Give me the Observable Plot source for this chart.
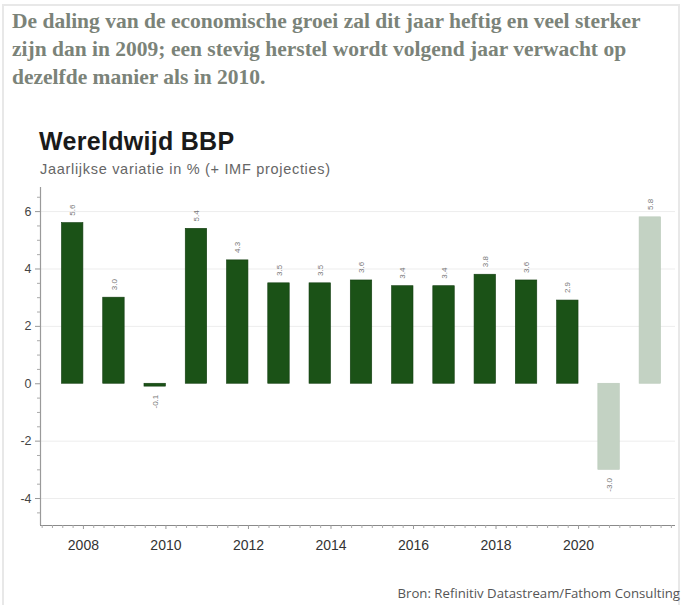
<!DOCTYPE html>
<html>
<head>
<meta charset="utf-8">
<script src="https://cdn.jsdelivr.net/npm/d3@7"></script>
<script src="https://cdn.jsdelivr.net/npm/@observablehq/plot@0.6"></script>
<style>
  html, body { margin: 0; padding: 0; background: #fff; width: 686px; height: 605px; overflow: hidden; }
  #card { position: absolute; left: 2px; top: 4px; width: 678px; height: 620px; border: 2px solid #e8e8e8; box-sizing: border-box; }
  #headline { position: absolute; left: 12px; top: 7px; width: 670px; white-space: nowrap; font-family: "Liberation Serif", serif; font-weight: bold; font-size: 21.5px; line-height: 28px; color: #7b8379; }
  #ctitle { position: absolute; left: 39px; top: 127px; font-family: "Liberation Sans", Arial, sans-serif; font-weight: bold; font-size: 25px; color: #1a1a1a; letter-spacing: 0.3px; }
  #csub { position: absolute; left: 40px; top: 161px; font-family: "Liberation Sans", Arial, sans-serif; font-size: 14.5px; letter-spacing: 0.7px; color: #666; }
  #chart { position: absolute; left: 0; top: 180px; }
  #source { position: absolute; right: 6px; top: 584px; font-family: "Open Sans", sans-serif; font-size: 13.2px; color: #555; }
</style>
</head>
<body>
<div id="card"></div>
<div id="headline">De daling van de economische groei zal dit jaar heftig en veel sterker<br>zijn dan in 2009; een stevig herstel wordt volgend jaar verwacht op<br>dezelfde manier als in 2010.</div>
<div id="ctitle">Wereldwijd BBP</div>
<div id="csub">Jaarlijkse variatie in % (+ IMF projecties)</div>
<div id="chart"></div>
<div id="source">Bron: Refinitiv Datastream/Fathom Consulting</div>
<script>
const years = [2007, 2008, 2009, 2010, 2011, 2012, 2013, 2014, 2015, 2016, 2017, 2018, 2019, 2020, 2021];
const growth = [5.6, 3.0, -0.1, 5.4, 4.3, 3.5, 3.5, 3.6, 3.4, 3.4, 3.8, 3.6, 2.9, -3.0, 5.8];
const projection = [false, false, false, false, false, false, false, false, false, false, false, false, false, true, true];
const xTickYears = [2008, 2010, 2012, 2014, 2016, 2018, 2020];
const yTicks = [-4, -2, 0, 2, 4, 6];

const data = years.map((y, i) => ({year: y, value: growth[i], proj: projection[i]}));
const pos = data.filter(d => d.value >= 0);
const neg = data.filter(d => d.value < 0);

const xDomain = [2006.96, 2022.35];
const yDomain = [-4.94, 6.84];
const minorY = d3.range(-4.5, 6.6, 0.5).filter(v => !yTicks.includes(v));
const minorX = d3.range(2007, 2022.3, 0.25).filter(v => !xTickYears.includes(v));

const dark = "#1b5217";
const light = "#c3d2c3";

const chart = Plot.plot({
  width: 686,
  height: 380,
  marginLeft: 40,
  marginRight: 11,
  marginTop: 7,
  marginBottom: 35,
  x: {domain: xDomain, axis: null},
  y: {domain: yDomain, axis: null},
  style: {fontFamily: "Liberation Sans, Arial, sans-serif", background: "transparent"},
  marks: [
    Plot.ruleY(yTicks.filter(v => v !== 0), {stroke: "#ededed", strokeWidth: 1}),
    Plot.rectY(data, {
      x1: d => d.year + 0.48,
      x2: d => d.year + 1,
      y: "value",
      fill: d => d.proj ? light : dark,
      stroke: d => d.proj ? "#b9c9b9" : "#123d10",
      strokeWidth: 0.6
    }),
    Plot.text(pos, {
      x: d => d.year + 0.74,
      y: "value",
      text: d => d.value.toFixed(1),
      rotate: -90,
      dy: -13,
      fontSize: 8,
      fill: "#777"
    }),
    Plot.text(neg, {
      x: d => d.year + 0.74,
      y: "value",
      text: d => d.value.toFixed(1),
      rotate: -90,
      dy: 15,
      fontSize: 8,
      fill: "#777"
    }),
    Plot.ruleX([xDomain[0]], {stroke: "#9a9a9a", strokeWidth: 1.2}),
    Plot.ruleY([yDomain[0]], {stroke: "#8a8a8a", strokeWidth: 1.2}),
    Plot.axisY({ticks: yTicks, tickSize: 5, tickPadding: 4, fontSize: 12.5, color: "#444", tickFormat: d => d, anchor: "left", stroke: "#999", label: null}),
    Plot.axisY({ticks: minorY, tickSize: 3, tickFormat: () => "", anchor: "left", stroke: "#aaa", label: null}),
    Plot.axisX({ticks: xTickYears, tickSize: 4, tickPadding: 11, fontSize: 14, tickFormat: d => String(d), anchor: "bottom", color: "#333", stroke: "#999", label: null}),
    Plot.axisX({ticks: minorX, tickSize: 3, tickFormat: () => "", anchor: "bottom", stroke: "#aaa", label: null})
  ]
});
document.getElementById("chart").appendChild(chart);
</script>
</body>
</html>
